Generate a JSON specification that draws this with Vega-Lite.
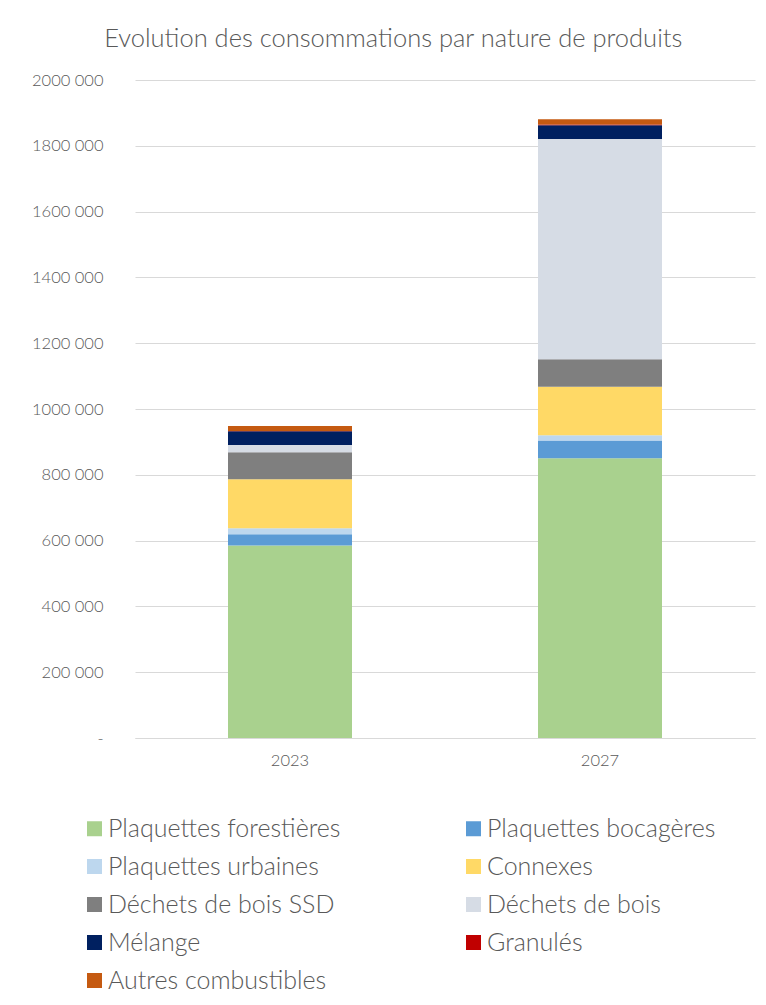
{
  "$schema": "https://vega.github.io/schema/vega-lite/v6.json",
  "width": 620,
  "height": 658,
  "autosize": {"type": "none"},
  "padding": {"left": 135, "top": 80, "right": 11, "bottom": 267},
  "background": "white",
  "title": {
    "text": "Evolution des consommations par nature de produits",
    "anchor": "middle",
    "frame": "bounds",
    "fontSize": 25.5,
    "font": "Lato",
    "fontWeight": 300,
    "color": "#595959",
    "offset": 20
  },
  "data": {
    "values": [
      {"annee": "2023", "produit": "Plaquettes forestières", "o": 1, "valeur": 585000},
      {"annee": "2023", "produit": "Plaquettes bocagères", "o": 2, "valeur": 34500},
      {"annee": "2023", "produit": "Plaquettes urbaines", "o": 3, "valeur": 18000},
      {"annee": "2023", "produit": "Connexes", "o": 4, "valeur": 149000},
      {"annee": "2023", "produit": "Déchets de bois SSD", "o": 5, "valeur": 82000},
      {"annee": "2023", "produit": "Déchets de bois", "o": 6, "valeur": 22000},
      {"annee": "2023", "produit": "Mélange", "o": 7, "valeur": 41500},
      {"annee": "2023", "produit": "Granulés", "o": 8, "valeur": 1500},
      {"annee": "2023", "produit": "Autres combustibles", "o": 9, "valeur": 15000},
      {"annee": "2027", "produit": "Plaquettes forestières", "o": 1, "valeur": 850000},
      {"annee": "2027", "produit": "Plaquettes bocagères", "o": 2, "valeur": 54500},
      {"annee": "2027", "produit": "Plaquettes urbaines", "o": 3, "valeur": 16000},
      {"annee": "2027", "produit": "Connexes", "o": 4, "valeur": 147000},
      {"annee": "2027", "produit": "Déchets de bois SSD", "o": 5, "valeur": 83500},
      {"annee": "2027", "produit": "Déchets de bois", "o": 6, "valeur": 670000},
      {"annee": "2027", "produit": "Mélange", "o": 7, "valeur": 41500},
      {"annee": "2027", "produit": "Granulés", "o": 8, "valeur": 2000},
      {"annee": "2027", "produit": "Autres combustibles", "o": 9, "valeur": 16000}
    ]
  },
  "mark": {"type": "bar"},
  "encoding": {
    "x": {
      "field": "annee",
      "type": "nominal",
      "scale": {"paddingInner": 0.6, "paddingOuter": 0.3},
      "axis": {
        "title": null,
        "labelAngle": 0,
        "ticks": false,
        "domainColor": "#d9d9d9",
        "domainWidth": 1,
        "labelFont": "Lato",
        "labelFontSize": 16.5,
        "labelFontWeight": 300,
        "labelColor": "#595959",
        "labelPadding": 14
      }
    },
    "y": {
      "field": "valeur",
      "type": "quantitative",
      "aggregate": "sum",
      "stack": "zero",
      "scale": {"domain": [0, 2000000], "nice": false},
      "axis": {
        "title": null,
        "values": [0, 200000, 400000, 600000, 800000, 1000000, 1200000, 1400000, 1600000, 1800000, 2000000],
        "labelExpr": "datum.value == 0 ? '-' : floor(datum.value / 1000) + ' 000'",
        "domain": false,
        "ticks": false,
        "gridColor": "#d9d9d9",
        "gridWidth": 1,
        "labelFont": "Lato",
        "labelFontSize": 16.5,
        "labelFontWeight": 300,
        "labelColor": "#595959",
        "labelPadding": 32
      }
    },
    "color": {
      "field": "produit",
      "type": "nominal",
      "scale": {
        "domain": ["Plaquettes forestières", "Plaquettes bocagères", "Plaquettes urbaines", "Connexes", "Déchets de bois SSD", "Déchets de bois", "Mélange", "Granulés", "Autres combustibles"],
        "range": ["#A9D18E", "#5B9BD5", "#BDD7EE", "#FFD966", "#7F7F7F", "#D6DCE5", "#002060", "#C00000", "#C55A11"]
      },
      "legend": {
        "title": null,
        "orient": "none",
        "direction": "horizontal",
        "legendX": -53,
        "legendY": 736,
        "columns": 2,
        "columnPadding": 120,
        "rowPadding": 12,
        "symbolType": "square",
        "symbolSize": 225,
        "symbolStrokeWidth": 0,
        "labelFont": "Lato",
        "labelFontSize": 25,
        "labelFontWeight": 300,
        "labelColor": "#595959",
        "labelOffset": 1,
        "labelLimit": 400
      }
    },
    "order": {"field": "o", "type": "quantitative", "aggregate": "min", "sort": "ascending"}
  },
  "config": {
    "view": {"stroke": null}
  }
}
